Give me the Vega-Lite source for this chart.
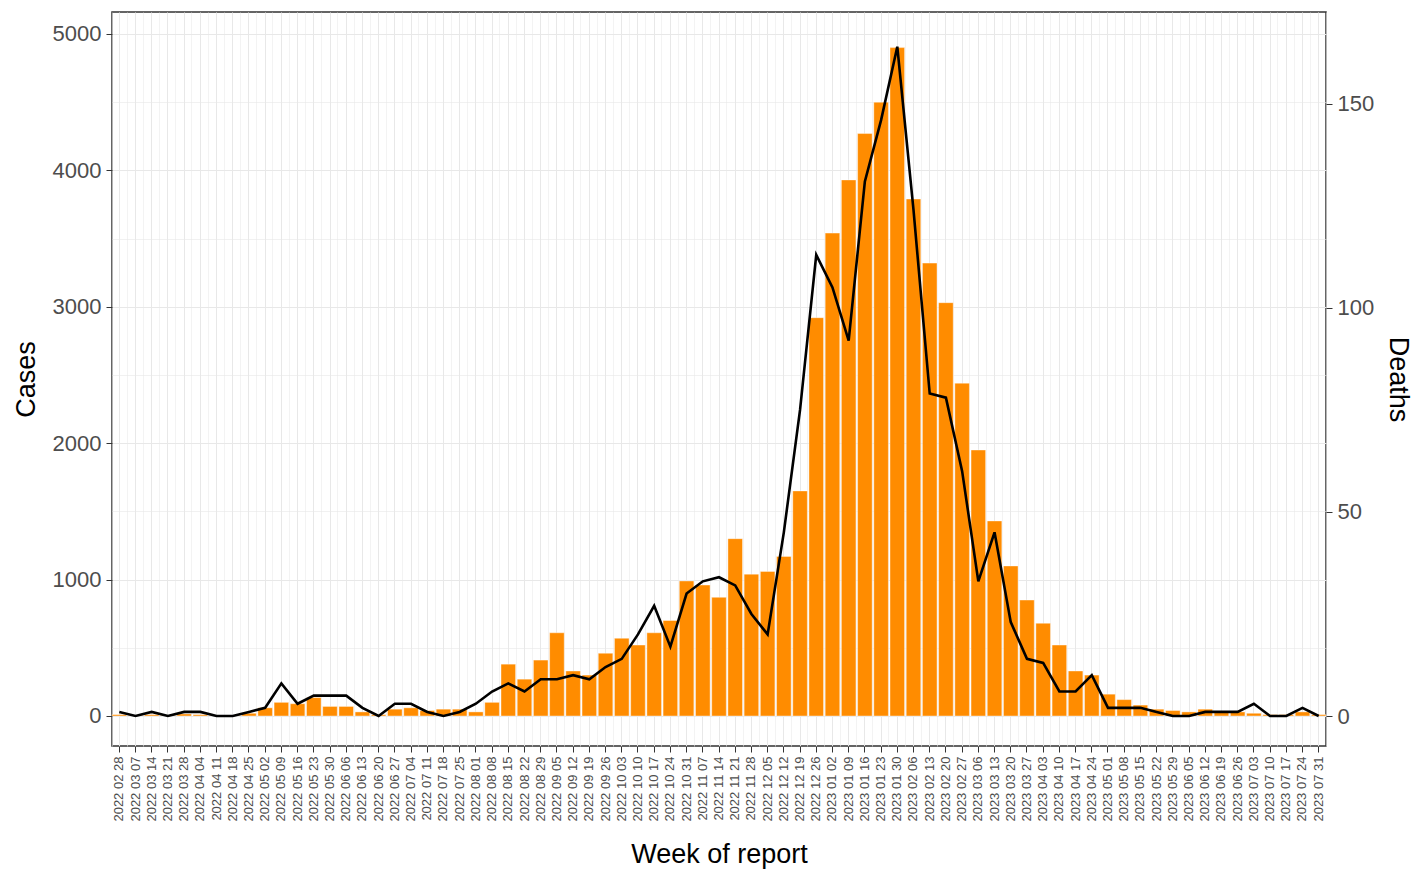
{
  "$schema": "https://vega.github.io/schema/vega-lite/v6.json",
  "width": 1214,
  "height": 734,
  "autosize": {"type": "none"},
  "padding": {"left": 112, "top": 12, "right": 98, "bottom": 128},
  "background": "white",
  "config": {
    "view": {"stroke": "#333333", "strokeWidth": 1.5},
    "axis": {
      "labelFont": "Liberation Sans",
      "titleFont": "Liberation Sans",
      "labelColor": "#4D4D4D",
      "titleColor": "#000000",
      "titleFontWeight": "normal",
      "tickColor": "#333333",
      "domain": false
    }
  },
  "data": {
    "values": [
      {"week": "2022 02 28", "cases": 10, "deaths": 1},
      {"week": "2022 03 07", "cases": 5, "deaths": 0},
      {"week": "2022 03 14", "cases": 10, "deaths": 1},
      {"week": "2022 03 21", "cases": 5, "deaths": 0},
      {"week": "2022 03 28", "cases": 15, "deaths": 1},
      {"week": "2022 04 04", "cases": 10, "deaths": 1},
      {"week": "2022 04 11", "cases": 5, "deaths": 0},
      {"week": "2022 04 18", "cases": 5, "deaths": 0},
      {"week": "2022 04 25", "cases": 20, "deaths": 1},
      {"week": "2022 05 02", "cases": 60, "deaths": 2},
      {"week": "2022 05 09", "cases": 100, "deaths": 8},
      {"week": "2022 05 16", "cases": 90, "deaths": 3},
      {"week": "2022 05 23", "cases": 135, "deaths": 5},
      {"week": "2022 05 30", "cases": 70, "deaths": 5},
      {"week": "2022 06 06", "cases": 70, "deaths": 5},
      {"week": "2022 06 13", "cases": 30, "deaths": 2},
      {"week": "2022 06 20", "cases": 10, "deaths": 0},
      {"week": "2022 06 27", "cases": 50, "deaths": 3},
      {"week": "2022 07 04", "cases": 60, "deaths": 3},
      {"week": "2022 07 11", "cases": 40, "deaths": 1},
      {"week": "2022 07 18", "cases": 50, "deaths": 0},
      {"week": "2022 07 25", "cases": 50, "deaths": 1},
      {"week": "2022 08 01", "cases": 30, "deaths": 3},
      {"week": "2022 08 08", "cases": 100, "deaths": 6},
      {"week": "2022 08 15", "cases": 380, "deaths": 8},
      {"week": "2022 08 22", "cases": 270, "deaths": 6},
      {"week": "2022 08 29", "cases": 410, "deaths": 9},
      {"week": "2022 09 05", "cases": 610, "deaths": 9},
      {"week": "2022 09 12", "cases": 330, "deaths": 10},
      {"week": "2022 09 19", "cases": 300, "deaths": 9},
      {"week": "2022 09 26", "cases": 460, "deaths": 12},
      {"week": "2022 10 03", "cases": 570, "deaths": 14},
      {"week": "2022 10 10", "cases": 520, "deaths": 20},
      {"week": "2022 10 17", "cases": 610, "deaths": 27},
      {"week": "2022 10 24", "cases": 700, "deaths": 17},
      {"week": "2022 10 31", "cases": 990, "deaths": 30},
      {"week": "2022 11 07", "cases": 960, "deaths": 33},
      {"week": "2022 11 14", "cases": 870, "deaths": 34},
      {"week": "2022 11 21", "cases": 1300, "deaths": 32},
      {"week": "2022 11 28", "cases": 1040, "deaths": 25},
      {"week": "2022 12 05", "cases": 1060, "deaths": 20},
      {"week": "2022 12 12", "cases": 1170, "deaths": 45},
      {"week": "2022 12 19", "cases": 1650, "deaths": 75},
      {"week": "2022 12 26", "cases": 2920, "deaths": 113},
      {"week": "2023 01 02", "cases": 3540, "deaths": 105},
      {"week": "2023 01 09", "cases": 3930, "deaths": 92},
      {"week": "2023 01 16", "cases": 4270, "deaths": 131},
      {"week": "2023 01 23", "cases": 4500, "deaths": 146},
      {"week": "2023 01 30", "cases": 4900, "deaths": 164},
      {"week": "2023 02 06", "cases": 3790, "deaths": 124},
      {"week": "2023 02 13", "cases": 3320, "deaths": 79},
      {"week": "2023 02 20", "cases": 3030, "deaths": 78},
      {"week": "2023 02 27", "cases": 2440, "deaths": 60},
      {"week": "2023 03 06", "cases": 1950, "deaths": 33},
      {"week": "2023 03 13", "cases": 1430, "deaths": 45},
      {"week": "2023 03 20", "cases": 1100, "deaths": 23},
      {"week": "2023 03 27", "cases": 850, "deaths": 14},
      {"week": "2023 04 03", "cases": 680, "deaths": 13},
      {"week": "2023 04 10", "cases": 520, "deaths": 6},
      {"week": "2023 04 17", "cases": 330, "deaths": 6},
      {"week": "2023 04 24", "cases": 300, "deaths": 10},
      {"week": "2023 05 01", "cases": 160, "deaths": 2},
      {"week": "2023 05 08", "cases": 120, "deaths": 2},
      {"week": "2023 05 15", "cases": 80, "deaths": 2},
      {"week": "2023 05 22", "cases": 50, "deaths": 1},
      {"week": "2023 05 29", "cases": 40, "deaths": 0},
      {"week": "2023 06 05", "cases": 30, "deaths": 0},
      {"week": "2023 06 12", "cases": 50, "deaths": 1},
      {"week": "2023 06 19", "cases": 30, "deaths": 1},
      {"week": "2023 06 26", "cases": 30, "deaths": 1},
      {"week": "2023 07 03", "cases": 20, "deaths": 3},
      {"week": "2023 07 10", "cases": 10, "deaths": 0},
      {"week": "2023 07 17", "cases": 10, "deaths": 0},
      {"week": "2023 07 24", "cases": 30, "deaths": 2},
      {"week": "2023 07 31", "cases": 10, "deaths": 0}
    ]
  },
  "layer": [
    {
      "mark": {"type": "bar", "color": "#FF8C00", "stroke": "#FFFFFF", "strokeWidth": 0.4},
      "encoding": {
        "x": {
          "field": "week",
          "type": "ordinal",
          "sort": null,
          "scale": {"paddingInner": 0.1, "paddingOuter": 0},
          "axis": {
            "title": "Week of report",
            "titleFontSize": 27,
            "titlePadding": 20,
            "labelAngle": -90,
            "labelFontSize": 13,
            "labelPadding": 4,
            "tickSize": 6,
            "tickWidth": 1,
            "grid": true,
            "gridColor": "#E8E8E8",
            "gridWidth": 1
          }
        },
        "y": {
          "field": "cases",
          "type": "quantitative",
          "scale": {"domain": [-220, 5161], "nice": false, "zero": false},
          "axis": {
            "title": "Cases",
            "titleFontSize": 27,
            "titlePadding": 12,
            "values": [0, 500, 1000, 1500, 2000, 2500, 3000, 3500, 4000, 4500, 5000],
            "labelExpr": "datum.value % 1000 === 0 ? datum.label : ''",
            "format": "d",
            "labelFontSize": 22,
            "labelPadding": 5,
            "tickSize": 6,
            "tickOpacity": {"condition": {"test": "datum.value % 1000 === 0", "value": 1}, "value": 0},
            "grid": true,
            "gridColor": "#E8E8E8",
            "gridWidth": {"condition": {"test": "datum.value % 1000 === 0", "value": 1.2}, "value": 0.6}
          }
        }
      }
    },
    {
      "mark": {"type": "line", "color": "#000000", "strokeWidth": 2.6},
      "encoding": {
        "x": {
          "field": "week",
          "type": "ordinal",
          "sort": null,
          "axis": {
            "orient": "top",
            "title": null,
            "labels": false,
            "ticks": false,
            "domain": false,
            "grid": true,
            "tickBand": "extent",
            "gridColor": "#EBEBEB",
            "gridWidth": 0.6
          }
        },
        "y": {
          "field": "deaths",
          "type": "quantitative",
          "scale": {"domain": [-7.35, 172.5], "nice": false, "zero": false},
          "axis": {
            "orient": "right",
            "title": "Deaths",
            "titleFontSize": 27,
            "titleAngle": 90,
            "titlePadding": 10,
            "values": [0, 50, 100, 150],
            "labelFontSize": 22,
            "labelPadding": 5,
            "tickSize": 6,
            "grid": false
          }
        }
      }
    }
  ],
  "resolve": {
    "scale": {"y": "independent"},
    "axis": {"x": "independent", "y": "independent"}
  }
}
